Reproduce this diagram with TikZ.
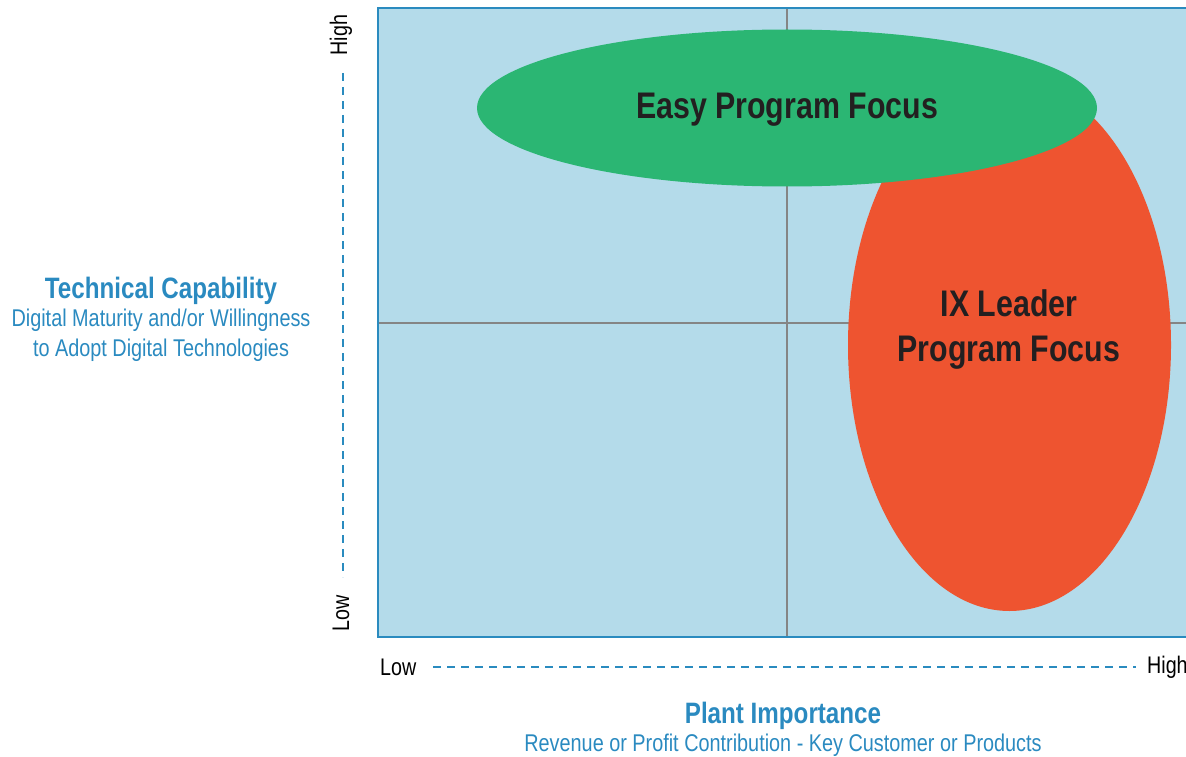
\documentclass[tikz,border=0pt]{standalone}
\usepackage{fontspec}
\setmainfont[FakeStretch=0.82]{Liberation Sans}
\usetikzlibrary{shapes.geometric}
\definecolor{boxblue}{HTML}{B4DBEA}
\definecolor{edgeblue}{HTML}{2A8BBF}
\definecolor{txtblue}{HTML}{2A8AC0}
\definecolor{gridgray}{HTML}{858585}
\definecolor{easygreen}{HTML}{2BB673}
\definecolor{leadred}{HTML}{EE5430}
\definecolor{darktxt}{HTML}{231F20}
\tikzset{
  axisdash/.style={draw=edgeblue, line width=2.6pt, dash pattern=on 8pt off 6pt},
  gridline/.style={draw=gridgray, line width=2pt},
  bigtitle/.style={font=\bfseries\fontsize{37}{45}\selectfont, text=darktxt, inner sep=0pt, align=center},
  axistitle/.style={font=\bfseries\fontsize{29.5}{34}\selectfont, text=txtblue, inner sep=0pt},
  axissub/.style={font=\fontsize{24.2}{29.5}\selectfont, text=txtblue, inner sep=0pt, align=center},
  ticklabel/.style={font=\fontsize{24}{28}\selectfont, text=black, inner sep=0pt}
}
\begin{document}
\begin{tikzpicture}[x=1pt,y=-1pt]
\useasboundingbox (0,0) rectangle (1186,757);
% chart area
\fill[boxblue] (378,8) rectangle (1200,637);
\coordinate (gtop) at (787,8);
\coordinate (gbot) at (787,637);
\coordinate (gleft) at (378,323);
\coordinate (gright) at (1200,323);
\draw[gridline] (gtop) -- (gbot);
\draw[gridline] (gleft) -- (gright);
% ellipses
\node[ellipse, fill=leadred, minimum width=323pt, minimum height=532pt, inner sep=0pt] (leader) at (1009.5,345) {};
\node[ellipse, fill=easygreen, minimum width=620pt, minimum height=157pt, inner sep=0pt] (easy) at (787,108) {};
\node[bigtitle] (easytxt) at (787,110) {Easy Program Focus};
\node[bigtitle] (leadtxt) at (1009,330) {IX Leader\\Program Focus};
% border
\coordinate (btr) at (1200,8);
\coordinate (btl) at (378,8);
\coordinate (bbl) at (378,637);
\coordinate (bbr) at (1200,637);
\draw[edgeblue, line width=2.8pt] (btr) -- (btl) -- (bbl) -- (bbr);
% vertical axis
\node[ticklabel, rotate=90] (vhigh) at (341,35) {High};
\node[ticklabel, rotate=90] (vlow) at (341,613) {Low};
\coordinate (vtop) at (343,73);
\coordinate (vbot) at (343,577);
\draw[axisdash] (vtop) -- (vbot);
\node[axistitle] (tcap) at (161,291) {Technical Capability};
\node[axissub] (tsub) at (161,335) {Digital Maturity and/or Willingness\\to Adopt Digital Technologies};
% horizontal axis
\node[ticklabel, anchor=west] (hlow) at (380,667) {Low};
\node[ticklabel, anchor=west] (hhigh) at (1147,667) {High};
\coordinate (hleft) at (433,667);
\coordinate (hright) at (1136,667);
\draw[axisdash] (hleft) -- (hright);
\node[axistitle] (pimp) at (783,716) {Plant Importance};
\node[axissub] (psub) at (783,745) {Revenue or Profit Contribution - Key Customer or Products};
\end{tikzpicture}
\end{document}
